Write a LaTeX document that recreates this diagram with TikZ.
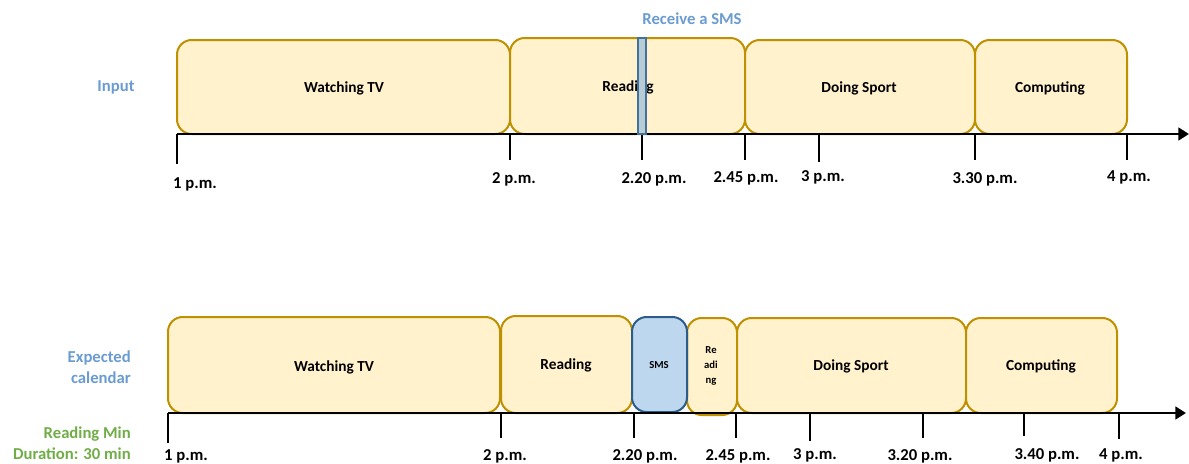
\documentclass[tikz,border=0pt]{standalone}
\usepackage{fontspec}
\setmainfont{Carlito}
\usetikzlibrary{arrows.meta,fit}
\definecolor{boxfill}{HTML}{FFF2CC}
\definecolor{boxline}{HTML}{BF9000}
\definecolor{smsfill}{HTML}{BDD7EE}
\definecolor{smsline}{HTML}{2E5C8A}
\definecolor{barfill}{HTML}{B8CCD6}
\definecolor{barline}{HTML}{41719C}
\definecolor{labblue}{HTML}{6A9BD1}
\definecolor{labgreen}{HTML}{70AD47}
\begin{document}
\begin{tikzpicture}[x=0.75pt,y=-0.75pt,
  box/.style={draw=boxline, fill=boxfill, line width=1.5pt, rounded corners=11pt, inner sep=0pt},
  smsbox/.style={box, draw=smsline, fill=smsfill},
  boxtext/.style={font=\bfseries\fontsize{11.5}{13}\selectfont, inner sep=0pt},
  smalltext/.style={font=\bfseries\fontsize{8}{11}\selectfont, align=center, inner sep=0pt},
  smsbar/.style={draw=barline, fill=barfill, line width=1.2pt, inner sep=0pt},
  axisline/.style={line width=2pt, -{Triangle[length=8pt,width=9.5pt]}},
  tickline/.style={line width=2pt},
  ticklab/.style={font=\bfseries\fontsize{12.5}{14}\selectfont, inner sep=0pt},
  sidelab/.style={font=\bfseries\fontsize{12.5}{15.75}\selectfont, align=right, inner sep=0pt},
]
\useasboundingbox (0,0) rectangle (1189,464);

% ---------- top timeline ----------
\node[sidelab, text=labblue] (inlab) at (116,87) {Input};
\node[box, fit={(177,40) (510,134)}] (tv1) {};
\node[box, fit={(510,38) (745,134)}] (rd1) {};
\node[box, fit={(745,40) (975,134)}] (sp1) {};
\node[box, fit={(975,40) (1127,134)}] (cp1) {};
\node[boxtext] (tv1t) at (344,88) {Watching TV};
\node[boxtext] (rd1t) at (628,87) {Reading};
\node[boxtext] (sp1t) at (859,88) {Doing Sport};
\node[boxtext] (cp1t) at (1050,88) {Computing};

\coordinate (ax1s) at (177,134);
\coordinate (ax1e) at (1189,134);
\draw[axisline] (ax1s) -- (ax1e);

\foreach \n/\x/\yb/\lx/\ly/\t in {a/177/164/195/184/1 p.m., b/510/160/514/179/2 p.m., c/642/160/654/179/2.20 p.m., d/745/160/746/178/2.45 p.m., e/819/162/823/177/3 p.m., f/975/160/985/179/3.30 p.m., g/1127/160/1129/177/4 p.m.}{
  \coordinate (tt\n) at (\x,134);
  \coordinate (tb\n) at (\x,\yb);
  \draw[tickline] (tt\n) -- (tb\n);
  \node[ticklab] (tl\n) at (\lx,\ly) {\t};
}

\node[smsbar, fit={(638,38) (646,134)}] (bar) {};
\node[font=\bfseries\fontsize{12.5}{14}\selectfont, text=labblue, inner sep=0pt] (rcv) at (692,19) {Receive a SMS};

% ---------- bottom timeline ----------
\node[sidelab, text=labblue, anchor=east] (exlab) at (131,367) {Expected\\calendar};
\node[sidelab, text=labgreen, anchor=east] (mnlab) at (131,443) {Reading Min\\Duration: 30 min};

\node[box, fit={(168,317) (500,413)}] (tv2) {};
\node[box, fit={(501,316) (632,413)}] (rd2) {};
\node[box, fit={(687,318) (737,415)}] (rd3) {};
\node[smsbox, fit={(632,317) (687,412)}] (sms) {};
\node[box, fit={(737,318) (966,413)}] (sp2) {};
\node[box, fit={(966,318) (1117,413)}] (cp2) {};
\node[boxtext] (tv2t) at (334,367) {Watching TV};
\node[boxtext] (rd2t) at (566,365) {Reading};
\node[smalltext] (smst) at (659,365) {SMS};
\node[smalltext] (rd3t) at (711,366) {Re\\adi\\ng};
\node[boxtext] (sp2t) at (851,366) {Doing Sport};
\node[boxtext] (cp2t) at (1041,366) {Computing};

\coordinate (ax2s) at (168,413);
\coordinate (ax2e) at (1186,413);
\draw[axisline] (ax2s) -- (ax2e);

\foreach \n/\x/\yb/\lx/\ly/\t in {a/168/443/186/456/1 p.m., b/501/438/505/456/2 p.m., c/634/438/645/456/2.20 p.m., d/736/438/738/456/2.45 p.m., e/810/441/815/455/3 p.m., f/923/438/920/456/3.20 p.m., g/1024/436/1047/455/3.40 p.m., h/1119/439/1121/455/4 p.m.}{
  \coordinate (ut\n) at (\x,413);
  \coordinate (ub\n) at (\x,\yb);
  \draw[tickline] (ut\n) -- (ub\n);
  \node[ticklab] (ul\n) at (\lx,\ly) {\t};
}
\end{tikzpicture}
\end{document}
